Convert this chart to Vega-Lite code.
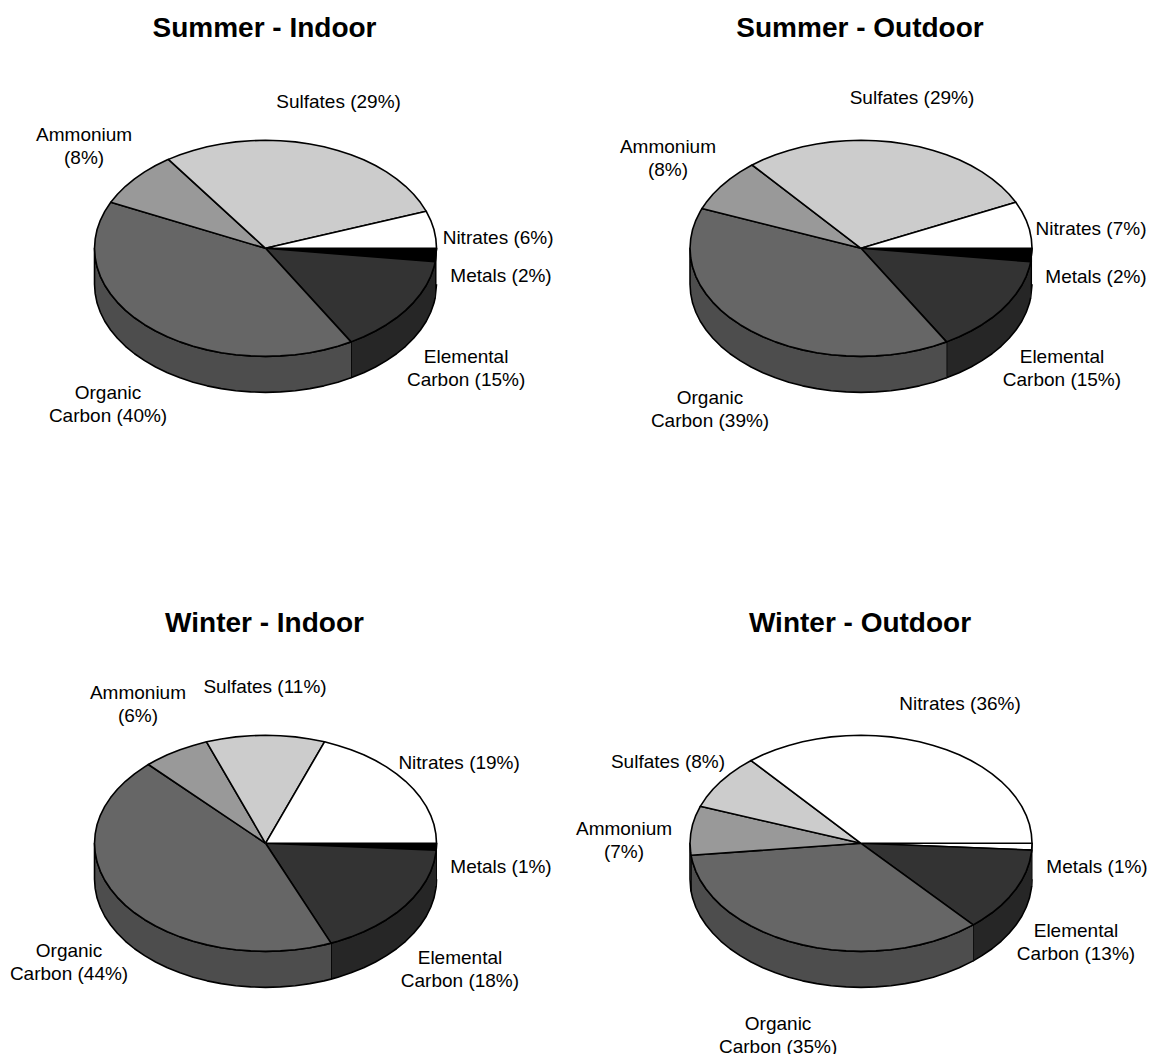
{
"$schema":"https://vega.github.io/schema/vega-lite/v6.json",
"padding":{"left":-24.5,"top":15,"right":0,"bottom":0},
"background":"white",
"config":{"view":{"stroke":null},"font":"Liberation Sans"},
"data":{"values":[
{"panel":"Summer - Indoor","part":"wall","slice":"Metals","x":[1,0.992,0.992,1],"y":[0,0.125,0.458,0.333]},
{"panel":"Summer - Indoor","part":"wall","slice":"Elemental Carbon","x":[0.992,0.985,0.966,0.94,0.906,0.866,0.819,0.766,0.707,0.643,0.574,0.5,0.5,0.574,0.643,0.707,0.766,0.819,0.866,0.906,0.94,0.966,0.985,0.992],"y":[0.125,0.174,0.259,0.342,0.423,0.5,0.574,0.643,0.707,0.766,0.819,0.866,1.199,1.152,1.099,1.04,0.976,0.907,0.833,0.756,0.675,0.592,0.507,0.458]},
{"panel":"Summer - Indoor","part":"wall","slice":"Organic Carbon","x":[0.5,0.423,0.342,0.259,0.174,0.087,0,-0.087,-0.174,-0.259,-0.342,-0.423,-0.5,-0.574,-0.643,-0.707,-0.766,-0.819,-0.866,-0.906,-0.94,-0.966,-0.985,-0.996,-1,-1,-0.996,-0.985,-0.966,-0.94,-0.906,-0.866,-0.819,-0.766,-0.707,-0.643,-0.574,-0.5,-0.423,-0.342,-0.259,-0.174,-0.087,0,0.087,0.174,0.259,0.342,0.423,0.5],"y":[0.866,0.906,0.94,0.966,0.985,0.996,1,0.996,0.985,0.966,0.94,0.906,0.866,0.819,0.766,0.707,0.643,0.574,0.5,0.423,0.342,0.259,0.174,0.087,0,0.333,0.42,0.507,0.592,0.675,0.756,0.833,0.907,0.976,1.04,1.099,1.152,1.199,1.239,1.273,1.299,1.318,1.329,1.333,1.329,1.318,1.299,1.273,1.239,1.199]},
{"panel":"Summer - Indoor","part":"top","slice":"Metals","share":2,"label":"Metals (2%)","lx":1.377,"ly":0.259,"x":[0,1,0.992,0],"y":[0,0,0.125,0]},
{"panel":"Summer - Indoor","part":"top","slice":"Elemental Carbon","share":15,"label":"Elemental\nCarbon (15%)","lx":1.173,"ly":1.01,"x":[0,0.992,0.985,0.966,0.94,0.906,0.866,0.819,0.766,0.707,0.643,0.574,0.5,0],"y":[0,0.125,0.174,0.259,0.342,0.423,0.5,0.574,0.643,0.707,0.766,0.819,0.866,0]},
{"panel":"Summer - Indoor","part":"top","slice":"Organic Carbon","share":40,"label":"Organic\nCarbon (40%)","lx":-0.921,"ly":1.338,"x":[0,0.5,0.423,0.342,0.259,0.174,0.087,0,-0.087,-0.174,-0.259,-0.342,-0.423,-0.5,-0.574,-0.643,-0.707,-0.766,-0.819,-0.866,-0.906,-0.94,-0.966,-0.985,-0.996,-1,-0.996,-0.985,-0.966,-0.94,-0.905,0],"y":[0,0.866,0.906,0.94,0.966,0.985,0.996,1,0.996,0.985,0.966,0.94,0.906,0.866,0.819,0.766,0.707,0.643,0.574,0.5,0.423,0.342,0.259,0.174,0.087,0,-0.087,-0.174,-0.259,-0.342,-0.426,0]},
{"panel":"Summer - Indoor","part":"top","slice":"Ammonium","share":8,"label":"Ammonium\n(8%)","lx":-1.061,"ly":-1.046,"x":[0,-0.905,-0.866,-0.819,-0.766,-0.707,-0.643,-0.574,-0.568,0],"y":[0,-0.426,-0.5,-0.574,-0.643,-0.707,-0.766,-0.819,-0.823,0]},
{"panel":"Summer - Indoor","part":"top","slice":"Sulfates","share":29,"label":"Sulfates (29%)","lx":0.427,"ly":-1.352,"x":[0,-0.568,-0.5,-0.423,-0.342,-0.259,-0.174,-0.087,0,0.087,0.174,0.259,0.342,0.423,0.5,0.574,0.643,0.707,0.766,0.819,0.866,0.906,0.94,0],"y":[0,-0.823,-0.866,-0.906,-0.94,-0.966,-0.985,-0.996,-1,-0.996,-0.985,-0.966,-0.94,-0.906,-0.866,-0.819,-0.766,-0.707,-0.643,-0.574,-0.5,-0.423,-0.342,0]},
{"panel":"Summer - Indoor","part":"top","slice":"Nitrates","share":6,"label":"Nitrates (6%)","lx":1.36,"ly":-0.093,"x":[0,0.94,0.966,0.985,0.996,1,0],"y":[0,-0.342,-0.259,-0.174,-0.087,0,0]},

{"panel":"Summer - Outdoor","part":"wall","slice":"Metals","x":[1,0.992,0.992,1],"y":[0,0.125,0.458,0.333]},
{"panel":"Summer - Outdoor","part":"wall","slice":"Elemental Carbon","x":[0.992,0.985,0.966,0.94,0.906,0.866,0.819,0.766,0.707,0.643,0.574,0.5,0.5,0.574,0.643,0.707,0.766,0.819,0.866,0.906,0.94,0.966,0.985,0.992],"y":[0.125,0.174,0.259,0.342,0.423,0.5,0.574,0.643,0.707,0.766,0.819,0.866,1.199,1.152,1.099,1.04,0.976,0.907,0.833,0.756,0.675,0.592,0.507,0.458]},
{"panel":"Summer - Outdoor","part":"wall","slice":"Organic Carbon","x":[0.5,0.423,0.342,0.259,0.174,0.087,0,-0.087,-0.174,-0.259,-0.342,-0.423,-0.5,-0.574,-0.643,-0.707,-0.766,-0.819,-0.866,-0.906,-0.94,-0.966,-0.985,-0.996,-1,-1,-0.996,-0.985,-0.966,-0.94,-0.906,-0.866,-0.819,-0.766,-0.707,-0.643,-0.574,-0.5,-0.423,-0.342,-0.259,-0.174,-0.087,0,0.087,0.174,0.259,0.342,0.423,0.5],"y":[0.866,0.906,0.94,0.966,0.985,0.996,1,0.996,0.985,0.966,0.94,0.906,0.866,0.819,0.766,0.707,0.643,0.574,0.5,0.423,0.342,0.259,0.174,0.087,0,0.333,0.42,0.507,0.592,0.675,0.756,0.833,0.907,0.976,1.04,1.099,1.152,1.199,1.239,1.273,1.299,1.318,1.329,1.333,1.329,1.318,1.299,1.273,1.239,1.199]},
{"panel":"Summer - Outdoor","part":"top","slice":"Metals","share":2,"label":"Metals (2%)","lx":1.374,"ly":0.269,"x":[0,1,0.992,0],"y":[0,0,0.125,0]},
{"panel":"Summer - Outdoor","part":"top","slice":"Elemental Carbon","share":15,"label":"Elemental\nCarbon (15%)","lx":1.175,"ly":1.01,"x":[0,0.992,0.985,0.966,0.94,0.906,0.866,0.819,0.766,0.707,0.643,0.574,0.5,0],"y":[0,0.125,0.174,0.259,0.342,0.423,0.5,0.574,0.643,0.707,0.766,0.819,0.866,0]},
{"panel":"Summer - Outdoor","part":"top","slice":"Organic Carbon","share":39,"label":"Organic\nCarbon (39%)","lx":-0.883,"ly":1.389,"x":[0,0.5,0.423,0.342,0.259,0.174,0.087,0,-0.087,-0.174,-0.259,-0.342,-0.423,-0.5,-0.574,-0.643,-0.707,-0.766,-0.819,-0.866,-0.906,-0.94,-0.966,-0.985,-0.996,-1,-0.996,-0.985,-0.966,-0.94,-0.93,0],"y":[0,0.866,0.906,0.94,0.966,0.985,0.996,1,0.996,0.985,0.966,0.94,0.906,0.866,0.819,0.766,0.707,0.643,0.574,0.5,0.423,0.342,0.259,0.174,0.087,0,-0.087,-0.174,-0.259,-0.342,-0.368,0]},
{"panel":"Summer - Outdoor","part":"top","slice":"Ammonium","share":8,"label":"Ammonium\n(8%)","lx":-1.129,"ly":-0.935,"x":[0,-0.93,-0.906,-0.866,-0.819,-0.766,-0.707,-0.643,-0.637,0],"y":[0,-0.368,-0.423,-0.5,-0.574,-0.643,-0.707,-0.766,-0.771,0]},
{"panel":"Summer - Outdoor","part":"top","slice":"Sulfates","share":29,"label":"Sulfates (29%)","lx":0.298,"ly":-1.389,"x":[0,-0.637,-0.574,-0.5,-0.423,-0.342,-0.259,-0.174,-0.087,0,0.087,0.174,0.259,0.342,0.423,0.5,0.574,0.643,0.707,0.766,0.819,0.866,0.905,0],"y":[0,-0.771,-0.819,-0.866,-0.906,-0.94,-0.966,-0.985,-0.996,-1,-0.996,-0.985,-0.966,-0.94,-0.906,-0.866,-0.819,-0.766,-0.707,-0.643,-0.574,-0.5,-0.426,0]},
{"panel":"Summer - Outdoor","part":"top","slice":"Nitrates","share":7,"label":"Nitrates (7%)","lx":1.345,"ly":-0.176,"x":[0,0.905,0.94,0.966,0.985,0.996,1,0],"y":[0,-0.426,-0.342,-0.259,-0.174,-0.087,0,0]},

{"panel":"Winter - Indoor","part":"wall","slice":"Metals","x":[1,0.998,0.998,1],"y":[0,0.063,0.396,0.333]},
{"panel":"Winter - Indoor","part":"wall","slice":"Elemental Carbon","x":[0.998,0.996,0.985,0.966,0.94,0.906,0.866,0.819,0.766,0.707,0.643,0.574,0.5,0.423,0.383,0.383,0.423,0.5,0.574,0.643,0.707,0.766,0.819,0.866,0.906,0.94,0.966,0.985,0.996,0.998],"y":[0.063,0.087,0.174,0.259,0.342,0.423,0.5,0.574,0.643,0.707,0.766,0.819,0.866,0.906,0.924,1.257,1.239,1.199,1.152,1.099,1.04,0.976,0.907,0.833,0.756,0.675,0.592,0.507,0.42,0.396]},
{"panel":"Winter - Indoor","part":"wall","slice":"Organic Carbon","x":[0.383,0.342,0.259,0.174,0.087,0,-0.087,-0.174,-0.259,-0.342,-0.423,-0.5,-0.574,-0.643,-0.707,-0.766,-0.819,-0.866,-0.906,-0.94,-0.966,-0.985,-0.996,-1,-1,-0.996,-0.985,-0.966,-0.94,-0.906,-0.866,-0.819,-0.766,-0.707,-0.643,-0.574,-0.5,-0.423,-0.342,-0.259,-0.174,-0.087,0,0.087,0.174,0.259,0.342,0.383],"y":[0.924,0.94,0.966,0.985,0.996,1,0.996,0.985,0.966,0.94,0.906,0.866,0.819,0.766,0.707,0.643,0.574,0.5,0.423,0.342,0.259,0.174,0.087,0,0.333,0.42,0.507,0.592,0.675,0.756,0.833,0.907,0.976,1.04,1.099,1.152,1.199,1.239,1.273,1.299,1.318,1.329,1.333,1.329,1.318,1.299,1.273,1.257]},
{"panel":"Winter - Indoor","part":"top","slice":"Metals","share":1,"label":"Metals (1%)","lx":1.377,"ly":0.222,"x":[0,1,0.998,0],"y":[0,0,0.063,0]},
{"panel":"Winter - Indoor","part":"top","slice":"Elemental Carbon","share":18,"label":"Elemental\nCarbon (18%)","lx":1.137,"ly":1.065,"x":[0,0.998,0.996,0.985,0.966,0.94,0.906,0.866,0.819,0.766,0.707,0.643,0.574,0.5,0.423,0.383,0],"y":[0,0.063,0.087,0.174,0.259,0.342,0.423,0.5,0.574,0.643,0.707,0.766,0.819,0.866,0.906,0.924,0]},
{"panel":"Winter - Indoor","part":"top","slice":"Organic Carbon","share":44,"label":"Organic\nCarbon (44%)","lx":-1.149,"ly":1.0,"x":[0,0.383,0.342,0.259,0.174,0.087,0,-0.087,-0.174,-0.259,-0.342,-0.423,-0.5,-0.574,-0.643,-0.707,-0.766,-0.819,-0.866,-0.906,-0.94,-0.966,-0.985,-0.996,-1,-0.996,-0.985,-0.966,-0.94,-0.906,-0.866,-0.819,-0.766,-0.707,-0.685,0],"y":[0,0.924,0.94,0.966,0.985,0.996,1,0.996,0.985,0.966,0.94,0.906,0.866,0.819,0.766,0.707,0.643,0.574,0.5,0.423,0.342,0.259,0.174,0.087,0,-0.087,-0.174,-0.259,-0.342,-0.423,-0.5,-0.574,-0.643,-0.707,-0.729,0]},
{"panel":"Winter - Indoor","part":"top","slice":"Ammonium","share":6,"label":"Ammonium\n(6%)","lx":-0.746,"ly":-1.393,"x":[0,-0.685,-0.643,-0.574,-0.5,-0.423,-0.345,0],"y":[0,-0.729,-0.766,-0.819,-0.866,-0.906,-0.939,0]},
{"panel":"Winter - Indoor","part":"top","slice":"Sulfates","share":11,"label":"Sulfates (11%)","lx":-0.003,"ly":-1.444,"x":[0,-0.345,-0.259,-0.174,-0.087,0,0.087,0.174,0.259,0.345,0],"y":[0,-0.939,-0.966,-0.985,-0.996,-1,-0.996,-0.985,-0.966,-0.939,0]},
{"panel":"Winter - Indoor","part":"top","slice":"Nitrates","share":19,"label":"Nitrates (19%)","lx":1.132,"ly":-0.741,"x":[0,0.345,0.423,0.5,0.574,0.643,0.707,0.766,0.819,0.866,0.906,0.94,0.966,0.985,0.996,1,0],"y":[0,-0.939,-0.906,-0.866,-0.819,-0.766,-0.707,-0.643,-0.574,-0.5,-0.423,-0.342,-0.259,-0.174,-0.087,0,0]},

{"panel":"Winter - Outdoor","part":"wall","slice":"Metals","x":[1,0.998,0.998,1],"y":[0,0.063,0.396,0.333]},
{"panel":"Winter - Outdoor","part":"wall","slice":"Elemental Carbon","x":[0.998,0.996,0.985,0.966,0.94,0.906,0.866,0.819,0.766,0.707,0.656,0.656,0.707,0.766,0.819,0.866,0.906,0.94,0.966,0.985,0.996,0.998],"y":[0.063,0.087,0.174,0.259,0.342,0.423,0.5,0.574,0.643,0.707,0.755,1.088,1.04,0.976,0.907,0.833,0.756,0.675,0.592,0.507,0.42,0.396]},
{"panel":"Winter - Outdoor","part":"wall","slice":"Organic Carbon","x":[0.656,0.574,0.5,0.423,0.342,0.259,0.174,0.087,0,-0.087,-0.174,-0.259,-0.342,-0.423,-0.5,-0.574,-0.643,-0.707,-0.766,-0.819,-0.866,-0.906,-0.94,-0.966,-0.985,-0.994,-0.994,-0.985,-0.966,-0.94,-0.906,-0.866,-0.819,-0.766,-0.707,-0.643,-0.574,-0.5,-0.423,-0.342,-0.259,-0.174,-0.087,0,0.087,0.174,0.259,0.342,0.423,0.5,0.574,0.656],"y":[0.755,0.819,0.866,0.906,0.94,0.966,0.985,0.996,1,0.996,0.985,0.966,0.94,0.906,0.866,0.819,0.766,0.707,0.643,0.574,0.5,0.423,0.342,0.259,0.174,0.111,0.444,0.507,0.592,0.675,0.756,0.833,0.907,0.976,1.04,1.099,1.152,1.199,1.239,1.273,1.299,1.318,1.329,1.333,1.329,1.318,1.299,1.273,1.239,1.199,1.152,1.088]},
{"panel":"Winter - Outdoor","part":"wall","slice":"Ammonium","x":[-0.994,-0.996,-1,-1,-0.996,-0.994],"y":[0.111,0.087,0,0.333,0.42,0.444]},
{"panel":"Winter - Outdoor","part":"top","slice":"Metals","share":1,"label":"Metals (1%)","lx":1.38,"ly":0.222,"x":[0,1,0.998,0],"y":[0,0,0.063,0]},
{"panel":"Winter - Outdoor","part":"top","slice":"Elemental Carbon","share":13,"label":"Elemental\nCarbon (13%)","lx":1.257,"ly":0.815,"x":[0,0.998,0.996,0.985,0.966,0.94,0.906,0.866,0.819,0.766,0.707,0.656,0],"y":[0,0.063,0.087,0.174,0.259,0.342,0.423,0.5,0.574,0.643,0.707,0.755,0]},
{"panel":"Winter - Outdoor","part":"top","slice":"Organic Carbon","share":35,"label":"Organic\nCarbon (35%)","lx":-0.485,"ly":1.672,"x":[0,0.656,0.574,0.5,0.423,0.342,0.259,0.174,0.087,0,-0.087,-0.174,-0.259,-0.342,-0.423,-0.5,-0.574,-0.643,-0.707,-0.766,-0.819,-0.866,-0.906,-0.94,-0.966,-0.985,-0.994,0],"y":[0,0.755,0.819,0.866,0.906,0.94,0.966,0.985,0.996,1,0.996,0.985,0.966,0.94,0.906,0.866,0.819,0.766,0.707,0.643,0.574,0.5,0.423,0.342,0.259,0.174,0.111,0]},
{"panel":"Winter - Outdoor","part":"top","slice":"Ammonium","share":7,"label":"Ammonium\n(7%)","lx":-1.386,"ly":-0.129,"x":[0,-0.994,-0.996,-1,-0.996,-0.985,-0.966,-0.94,0],"y":[0,0.111,0.087,0,-0.087,-0.174,-0.259,-0.342,0]},
{"panel":"Winter - Outdoor","part":"top","slice":"Sulfates","share":8,"label":"Sulfates (8%)","lx":-1.129,"ly":-0.75,"x":[0,-0.94,-0.906,-0.866,-0.819,-0.766,-0.707,-0.643,0],"y":[0,-0.342,-0.423,-0.5,-0.574,-0.643,-0.707,-0.766,0]},
{"panel":"Winter - Outdoor","part":"top","slice":"Nitrates","share":36,"label":"Nitrates (36%)","lx":0.579,"ly":-1.287,"x":[0,-0.643,-0.574,-0.5,-0.423,-0.342,-0.259,-0.174,-0.087,0,0.087,0.174,0.259,0.342,0.423,0.5,0.574,0.643,0.707,0.766,0.819,0.866,0.906,0.94,0.966,0.985,0.996,1,0],"y":[0,-0.766,-0.819,-0.866,-0.906,-0.94,-0.966,-0.985,-0.996,-1,-0.996,-0.985,-0.966,-0.94,-0.906,-0.866,-0.819,-0.766,-0.707,-0.643,-0.574,-0.5,-0.423,-0.342,-0.259,-0.174,-0.087,0,0]}
]},
"columns":2,
"facet":{"field":"panel","type":"nominal",
  "sort":["Summer - Indoor","Summer - Outdoor","Winter - Indoor","Winter - Outdoor"],
  "header":{"title":null,"labelFont":"Liberation Sans","labelFontWeight":"bold","labelFontSize":28,"labelColor":"black","labelPadding":0}},
"spacing":{"column":16.5,"row":148},
"spec":{
  "width":578,"height":416,
  "encoding":{
    "x":{"field":"x","type":"quantitative","axis":null,"scale":{"domain":[-1.696,1.684],"nice":false,"zero":false}},
    "y":{"field":"y","type":"quantitative","axis":null,"scale":{"domain":[-1.9,1.95],"reverse":true,"nice":false,"zero":false}}
  },
  "layer":[
    {
      "transform":[{"filter":"datum.part === 'wall'"},{"flatten":["x","y"]},{"window":[{"op":"row_number","as":"i"}],"groupby":["panel","slice"]}],
      "mark":{"type":"line","filled":true,"stroke":"black","strokeWidth":1.6,"strokeJoin":"round"},
      "encoding":{
        "order":{"field":"i","type":"quantitative"},
        "color":{"field":"slice","type":"nominal","legend":null,
          "scale":{"domain":["Nitrates","Sulfates","Ammonium","Organic Carbon","Elemental Carbon","Metals"],"range":["#bfbfbf","#999999","#737373","#4d4d4d","#262626","#000000"]}}
      }
    },
    {
      "transform":[{"filter":"datum.part === 'top'"},{"flatten":["x","y"]},{"window":[{"op":"row_number","as":"i"}],"groupby":["panel","slice"]}],
      "mark":{"type":"line","filled":true,"stroke":"black","strokeWidth":1.6,"strokeJoin":"round"},
      "encoding":{
        "order":{"field":"i","type":"quantitative"},
        "color":{"condition":{"test":"datum.panel === 'Winter - Outdoor' && datum.slice === 'Metals'","value":"#ffffff"},"field":"slice","type":"nominal","legend":null,
          "scale":{"domain":["Nitrates","Sulfates","Ammonium","Organic Carbon","Elemental Carbon","Metals"],"range":["#ffffff","#cccccc","#999999","#666666","#333333","#000000"]}}
      }
    },
    {
      "transform":[{"filter":"datum.part === 'top'"}],
      "mark":{"type":"text","font":"Liberation Sans","fontSize":19,"lineHeight":23,"lineBreak":"\n","align":"center","baseline":"middle","color":"black"},
      "encoding":{
        "x":{"field":"lx","type":"quantitative"},
        "y":{"field":"ly","type":"quantitative"},
        "text":{"field":"label","type":"nominal"}
      }
    }
  ],
  "resolve":{"scale":{"color":"independent"}}
}
}
